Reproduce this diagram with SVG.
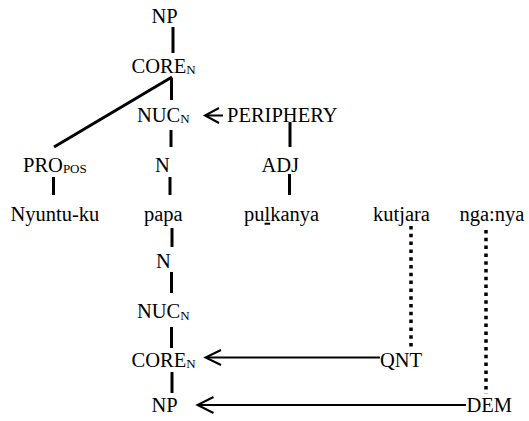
<svg xmlns="http://www.w3.org/2000/svg" width="529" height="421" viewBox="0 0 529 421">
  <style>
    .lbl { font-family: 'Liberation Serif', 'Times New Roman', Times, serif; font-size: 20.5px; fill: #000; }
    .sub { font-size: 13px; }
    .tree { stroke: #000; stroke-width: 3; fill: none; stroke-linecap: butt; }
    .dot { stroke: #000; stroke-width: 3.5; fill: none; stroke-dasharray: 3.5 4.3; }
    .arrow { stroke: #000; stroke-width: 2; fill: none; }
    .head { stroke: #000; stroke-width: 2; fill: none; stroke-linejoin: miter; }
  </style>
  <rect width="529" height="421" fill="#fff"/>

  <!-- tree branches and operator links -->
  <g id="connectors">
    <line class="tree" x1="173" y1="27" x2="173" y2="53"/>
    <line class="tree" x1="171.5" y1="78" x2="171.5" y2="100"/>
    <line class="tree" x1="172" y1="77" x2="54" y2="147"/>
    <line class="tree" x1="171" y1="130" x2="171" y2="147"/>
    <line class="tree" x1="290" y1="122" x2="290" y2="147"/>
    <line class="tree" x1="53.5" y1="177" x2="53.5" y2="195"/>
    <line class="tree" x1="170" y1="177" x2="170" y2="195"/>
    <line class="tree" x1="289.5" y1="174" x2="289.5" y2="195"/>
    <line class="tree" x1="172" y1="228" x2="172" y2="247"/>
    <line class="tree" x1="171.5" y1="272" x2="171.5" y2="293"/>
    <line class="tree" x1="171.5" y1="327" x2="171.5" y2="348"/>
    <line class="tree" x1="172" y1="372" x2="172" y2="393"/>

    <line class="dot" x1="411" y1="226" x2="411" y2="348"/>
    <line class="dot" x1="486" y1="230" x2="486" y2="394"/>

    <line class="arrow" x1="223" y1="115.5" x2="205" y2="115.5"/>
    <polyline class="head" points="219,108 205,115.5 219,123"/>
    <line class="arrow" x1="380" y1="357.5" x2="206" y2="357.5"/>
    <polyline class="head" points="221,350 205.5,357.5 221,365"/>
    <line class="arrow" x1="466" y1="405" x2="198" y2="405"/>
    <polyline class="head" points="213.5,397 197.5,405 213.5,413"/>
  </g>

  <g id="np-top"><text class="lbl" x="151.5" y="22.7">NP</text></g>
  <g id="core-top"><text class="lbl" x="131.5" y="72.7">CORE<tspan class="sub" dy="1.5">N</tspan></text></g>
  <g id="nuc-top"><text class="lbl" x="137" y="121.7">NUC<tspan class="sub" dy="1.5">N</tspan></text></g>
  <g id="periphery"><text class="lbl" x="227" y="121.7">PERIPHERY</text></g>
  <g id="pro-pos"><text class="lbl" x="23" y="171.7">PRO<tspan class="sub" dy="1.5">POS</tspan></text></g>
  <g id="n-top"><text class="lbl" x="155" y="171.7">N</text></g>
  <g id="adj"><text class="lbl" x="261.5" y="171.7">ADJ</text></g>

  <g id="word-nyuntu-ku"><text class="lbl" x="10.5" y="220.7">Nyuntu-ku</text></g>
  <g id="word-papa"><text class="lbl" x="144" y="220.7">papa</text></g>
  <g id="word-pulkanya"><text class="lbl" x="244" y="220.7">pu<tspan text-decoration="underline">l</tspan>kanya</text></g>
  <g id="word-kutjara"><text class="lbl" x="373" y="220.7">kutjara</text></g>
  <g id="word-nga-nya"><text class="lbl" x="459.5" y="220.7">nga:nya</text></g>

  <g id="n-bottom"><text class="lbl" x="156" y="268.3">N</text></g>
  <g id="nuc-bottom"><text class="lbl" x="137" y="318.3">NUC<tspan class="sub" dy="1.5">N</tspan></text></g>
  <g id="core-bottom"><text class="lbl" x="131.5" y="366.7">CORE<tspan class="sub" dy="1.5">N</tspan></text></g>
  <g id="qnt"><text class="lbl" x="380" y="366.7">QNT</text></g>
  <g id="np-bottom"><text class="lbl" x="151.5" y="411.7">NP</text></g>
  <g id="dem"><text class="lbl" x="466.5" y="411.7">DEM</text></g>
</svg>
